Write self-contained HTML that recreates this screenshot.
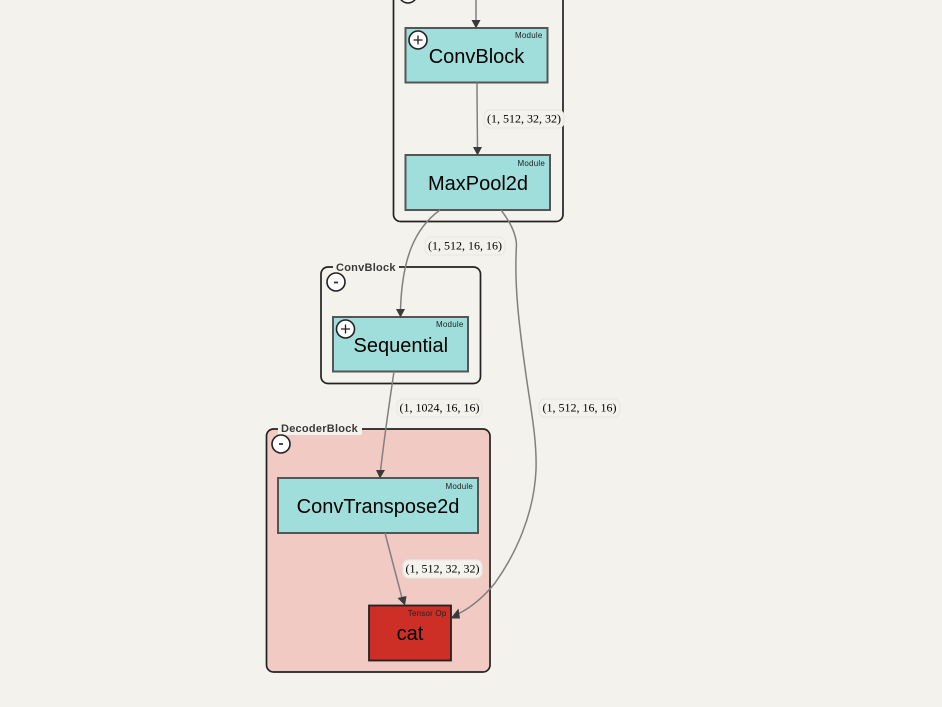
<!DOCTYPE html>
<html>
<head>
<meta charset="utf-8">
<style>
html,body{margin:0;padding:0;background:#f3f2ec;width:942px;height:707px;overflow:hidden}
svg{display:block}
.title{font-family:"Liberation Sans",sans-serif;font-size:20px;fill:#000;text-anchor:middle}
.type{font-family:"Liberation Sans",sans-serif;font-size:8px;fill:#222;text-anchor:end;letter-spacing:.2px}
.group{fill:none;stroke:#222;stroke-width:1.7}
.node{fill:#a0dedb;stroke:#555;stroke-width:2}
.edge{fill:none;stroke:#808080;stroke-width:1.5}
.head{fill:#3a3a3a}
.lab{font-family:"Liberation Serif",serif;font-size:12px;fill:#000;text-anchor:middle}
.glab{font-family:"Liberation Sans",sans-serif;font-size:11px;font-weight:bold;fill:#3a3a3a;letter-spacing:.25px}
.pill{fill:#f3f2ec;stroke:#e9e8e2;stroke-width:1.2}
.btn{fill:#fff;stroke:#222;stroke-width:1.6}
.sym{stroke:#222;stroke-width:1.3;fill:none}
.minus{stroke:#333;stroke-width:1.8;fill:none}
</style>
</head>
<body>
<svg width="942" height="707" viewBox="0 0 942 707" xmlns="http://www.w3.org/2000/svg">
<rect width="942" height="707" fill="#f3f2ec"/>

<!-- groups -->
<rect class="group" x="393.5" y="-60" width="169.5" height="281.5" rx="7"/>
<circle class="btn" cx="408" cy="-6" r="9"/>

<rect class="group" x="321" y="267" width="159.5" height="116.5" rx="7"/>
<rect x="333" y="261" width="66" height="12" fill="#f3f2ec"/>
<text class="glab" x="336" y="271">ConvBlock</text>
<circle class="btn" cx="336" cy="282" r="9"/>
<path class="minus" d="M334 282.500h4"/>

<rect x="266.5" y="429" width="223.5" height="243" rx="7" fill="#f2cac4" stroke="#222" stroke-width="1.7"/>
<rect x="278" y="422" width="84" height="13" rx="2" fill="#f3f2ec"/>
<text class="glab" x="281" y="432">DecoderBlock</text>
<circle class="btn" cx="281" cy="444" r="9"/>
<path class="minus" d="M279 444h4"/>

<!-- nodes -->
<rect class="node" x="405.5" y="28" width="142" height="54.5"/>
<text class="title" x="476.5" y="63">ConvBlock</text>
<text class="type" x="542.500" y="38">Module</text>
<circle class="btn" cx="418" cy="40" r="9"/>
<path class="sym" d="M413.500 40h9M418 35.500v9"/>

<rect class="node" x="405.5" y="155" width="144.5" height="55"/>
<text class="title" x="478" y="190">MaxPool2d</text>
<text class="type" x="545" y="166">Module</text>

<rect class="node" x="333" y="317" width="135" height="54.5"/>
<text class="title" x="400.8" y="352">Sequential</text>
<text class="type" x="463.500" y="327">Module</text>
<circle class="btn" cx="345.500" cy="329" r="9"/>
<path class="sym" d="M341 329h9M345.500 324.500v9"/>

<rect class="node" x="278" y="478" width="200" height="55"/>
<text class="title" x="378" y="513">ConvTranspose2d</text>
<text class="type" x="473" y="489">Module</text>

<rect x="369" y="605.500" width="82" height="55" fill="#cd2e26" stroke="#222" stroke-width="1.8"/>
<text class="title" x="410" y="640">cat</text>
<text class="type" x="446.500" y="616">Tensor Op</text>

<!-- edges -->
<path class="edge" d="M476 0V21"/>
<path class="head" d="M471.500 20h9l-4.500 8.500z"/>
<path class="edge" d="M477 82.500C477 105 477.500 130 477.500 148"/>
<path class="head" d="M473 147h9l-4.500 8.500z"/>
<path class="edge" d="M440 210C415 228 402 258 400.500 310"/>
<path class="head" d="M396 309h9l-4.500 8.500z"/>
<path class="edge" d="M501 210C510 222 516 233 516.500 245C514 285 519 325 526 375C531 410 537 440 536 470C534 515 515 555 495 583C482 599 470 608 458 614"/>
<path class="head" d="M458.500 608.500l-8 10h9.500z"/>
<path class="edge" d="M394 371.500C389 405 384 440 380.500 471"/>
<path class="head" d="M376 470h9l-5 8.500z"/>
<path class="edge" d="M385 533L402 598"/>
<path class="head" d="M397.500 598l9-2-1.500 9.500z"/>

<!-- edge labels -->
<rect class="pill" x="484" y="110" width="80" height="18" rx="6"/>
<text class="lab" x="524" y="122.500">(1, 512, 32, 32)</text>
<rect class="pill" x="425" y="237" width="80" height="18" rx="6"/>
<text class="lab" x="465" y="249.500">(1, 512, 16, 16)</text>
<rect class="pill" x="397" y="399" width="85" height="18" rx="6"/>
<text class="lab" x="439.500" y="411.500">(1, 1024, 16, 16)</text>
<rect class="pill" x="539" y="399" width="81" height="18" rx="6"/>
<text class="lab" x="579.500" y="411.500">(1, 512, 16, 16)</text>
<rect class="pill" x="403" y="560" width="79" height="18" rx="6"/>
<text class="lab" x="442.500" y="572.500">(1, 512, 32, 32)</text>
</svg>
</body>
</html>
